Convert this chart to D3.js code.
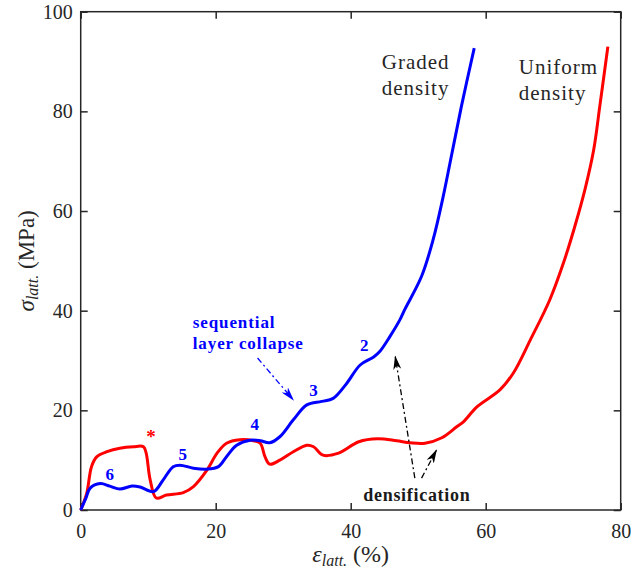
<!DOCTYPE html>
<html>
<head>
<meta charset="utf-8">
<script src="https://cdn.jsdelivr.net/npm/d3@7"></script>
<style>
  body { margin: 0; background: #fff; }
  text { font-family: "Liberation Serif", "Times New Roman", serif; }
</style>
</head>
<body>
<script>
// SVG dimensions
const outerWidth = 631, outerHeight = 573;
const plotLeft = 80.7, plotRight = 620.7, plotTop = 11.7, plotBottom = 510;
const axisColour = "#262626";

// Graded density (blue)
const gradedStrain = [0, 0.8, 1.4, 2.9, 4.3, 5.8, 7.6, 8.8, 10.8, 12.2, 13.7, 14.7, 16.7, 18.7, 20.4,
    21.6, 23.1, 25.1, 26.6, 28.0, 29.5, 31.5, 33.5, 35.7, 37.4, 39.4, 41.4, 43.4, 44.3, 45.8,
    47.3, 48.0, 50.5, 52.2, 53.7, 55.0, 56.4, 58.3];
const gradedStress = [0, 2.5, 4.4, 5.3, 4.8, 4.2, 4.8, 4.6, 3.7, 6.0, 8.7, 9.0, 8.4, 8.2, 8.7,
    10.7, 13.0, 14.0, 13.9, 13.5, 14.7, 18.1, 21.1, 21.8, 22.4, 25.4, 29.1, 30.7, 31.8, 34.8,
    38.2, 40.2, 46.9, 54.2, 62.9, 71.6, 81.0, 92.7];

// Uniform density (red)
const uniformStrain = [0, 0.9, 1.6, 2.4, 3.9, 5.8, 7.8, 9.3, 9.7, 10.3, 11.2, 12.7, 15.2, 16.7,
    18.7, 20.2, 21.6, 23.6, 25.6, 26.6, 27.3, 28.0, 29.5, 31.5, 33.5, 34.5, 35.9, 38.2, 41.2,
    44.0, 46.8, 48.8, 51.0, 53.5, 55.7, 56.7, 58.7, 62.1, 64.1, 66.6, 69.5, 71.5, 73.2, 74.7,
    76.0, 76.9, 78.1];
const uniformStress = [0, 3.4, 8.7, 10.7, 11.7, 12.4, 12.7, 12.7, 11.4, 6.0, 2.4, 3.0, 3.5, 4.7,
    8.0, 11.4, 13.4, 14.1, 13.9, 13.4, 10.7, 9.2, 10.0, 11.7, 13.0, 12.7, 11.0, 11.4, 13.7,
    14.3, 13.9, 13.5, 13.4, 14.5, 16.7, 17.7, 20.7, 24.1, 27.5, 34.1, 42.2, 49.5, 56.9, 64.3,
    72.3, 81.0, 93.0];

// Tick values
const xTicks = [0, 20, 40, 60, 80];
const yTicks = [0, 20, 40, 60, 80, 100];

// Collapse-stage labels on the graded curve [strain, stress, label]
const stageLabels = [[4.3, 6.0, "6"], [15.1, 10.0, "5"], [25.8, 16.1, "4"], [34.5, 22.9, "3"], [42.0, 32.0, "2"]];

const svg = d3.select("body").append("svg")
    .attr("width", outerWidth)
    .attr("height", outerHeight);

const x = d3.scaleLinear().domain([0, 80]).range([plotLeft, plotRight]);
const y = d3.scaleLinear().domain([0, 100]).range([plotBottom, plotTop]);

// Arrow heads
const defs = svg.append("defs");
[["headBlack", "#000"], ["headBlue", "#0000ff"]].forEach(([id, c]) => {
    defs.append("marker")
        .attr("id", id)
        .attr("viewBox", "0 0 14 8")
        .attr("refX", 13).attr("refY", 4)
        .attr("markerWidth", 14).attr("markerHeight", 8)
        .attr("markerUnits", "userSpaceOnUse")
        .attr("orient", "auto")
        .append("path")
        .attr("d", "M0,0 L14,4 L0,8 L4,4 Z")
        .attr("fill", c);
});

// Axes with inward ticks on all four sides
function styleAxis(g) {
    g.select(".domain").remove();
    g.selectAll("line").attr("stroke", axisColour).attr("stroke-width", 1.5);
    g.selectAll("text").attr("fill", axisColour).style("font-size", "20px")
        .style("font-family", "'Liberation Serif', serif");
}
svg.append("g").attr("transform", `translate(0,${plotBottom})`)
    .call(d3.axisBottom(x).tickValues(xTicks).tickSize(-7).tickPadding(14).tickFormat(d3.format("d")))
    .call(styleAxis);
svg.append("g").attr("transform", `translate(${plotLeft},0)`)
    .call(d3.axisLeft(y).tickValues(yTicks).tickSize(-7).tickPadding(8).tickFormat(d3.format("d")))
    .call(styleAxis);
svg.append("g").attr("transform", `translate(0,${plotTop})`)
    .call(d3.axisTop(x).tickValues(xTicks).tickSize(-7).tickFormat(""))
    .call(styleAxis);
svg.append("g").attr("transform", `translate(${plotRight},0)`)
    .call(d3.axisRight(y).tickValues(yTicks).tickSize(-7).tickFormat(""))
    .call(styleAxis);

svg.append("rect")
    .attr("x", plotLeft).attr("y", plotTop)
    .attr("width", plotRight - plotLeft).attr("height", plotBottom - plotTop)
    .attr("fill", "none").attr("stroke", axisColour).attr("stroke-width", 1.5);

// Curves
const line = d3.line()
    .x(d => x(d[0]))
    .y(d => y(d[1]))
    .curve(d3.curveCatmullRom.alpha(0.5));

svg.append("path")
    .datum(uniformStrain.map((s, i) => [s, uniformStress[i]]))
    .attr("fill", "none").attr("stroke", "#ff0000").attr("stroke-width", 3)
    .attr("stroke-linejoin", "round")
    .attr("d", line);
svg.append("path")
    .datum(gradedStrain.map((s, i) => [s, gradedStress[i]]))
    .attr("fill", "none").attr("stroke", "#0000ff").attr("stroke-width", 3)
    .attr("stroke-linejoin", "round")
    .attr("d", line);

// Stage labels
svg.selectAll("text.stage")
    .data(stageLabels)
    .enter().append("text")
    .attr("class", "stage")
    .attr("x", d => x(d[0])).attr("y", d => y(d[1]))
    .attr("text-anchor", "middle")
    .attr("fill", "#0000ff")
    .style("font-size", "17px").style("font-weight", "bold")
    .text(d => d[2]);

svg.append("text")
    .attr("x", x(10.4)).attr("y", y(13.4))
    .attr("text-anchor", "middle")
    .attr("fill", "#ff0000")
    .style("font-size", "19px").style("font-weight", "bold")
    .text("*");

// Curve names
function twoLines(xv, yv, lines, opts) {
    const t = svg.append("text")
        .attr("x", x(xv)).attr("y", y(yv))
        .attr("fill", opts.fill)
        .attr("text-anchor", opts.anchor || "start")
        .style("font-size", opts.size)
        .style("font-weight", opts.weight || "normal")
        .style("letter-spacing", opts.spacing || "0px");
    lines.forEach((s, i) => {
        t.append("tspan").attr("x", x(xv)).attr("dy", i === 0 ? 0 : opts.lead).text(s);
    });
}
twoLines(44.6, 88.6, ["Graded", "density"], { fill: "#262626", size: "21px", lead: 26, spacing: "1px" });
twoLines(64.9, 87.5, ["Uniform", "density"], { fill: "#262626", size: "21px", lead: 26, spacing: "1px" });
twoLines(16.6, 36.5, ["sequential", "layer collapse"], { fill: "#0000ff", size: "17px", lead: 21, weight: "bold", spacing: "0.9px" });

svg.append("text")
    .attr("x", x(49.8)).attr("y", y(1.8))
    .attr("text-anchor", "middle")
    .attr("fill", "#1a1a1a")
    .style("font-size", "18px").style("font-weight", "bold")
    .style("letter-spacing", "0.7px")
    .text("densification");

// Dash-dot arrows
const arrows = [
    [26.2, 30.5, 31.5, 22.1, "#0000ff", "headBlue"],
    [49.5, 6.4, 46.6, 30.8, "#000", "headBlack"],
    [50.5, 6.4, 52.7, 12.0, "#000", "headBlack"]
];
arrows.forEach(a => {
    svg.append("line")
        .attr("x1", x(a[0])).attr("y1", y(a[1]))
        .attr("x2", x(a[2])).attr("y2", y(a[3]))
        .attr("stroke", a[4]).attr("stroke-width", 1.3)
        .attr("stroke-dasharray", "6,3,2,3")
        .attr("marker-end", `url(#${a[5]})`);
});

// Axis labels
const xl = svg.append("text")
    .attr("x", (plotLeft + plotRight) / 2).attr("y", 562)
    .attr("text-anchor", "middle")
    .attr("fill", axisColour)
    .style("font-size", "24px");
xl.append("tspan").style("font-style", "italic").text("ε");
xl.append("tspan").style("font-style", "italic").style("font-size", "16px").attr("dy", 4).text("latt.");
xl.append("tspan").attr("dy", -4).text(" (%)");

const yl = svg.append("text")
    .attr("transform", `translate(34,${(plotTop + plotBottom) / 2}) rotate(-90)`)
    .attr("text-anchor", "middle")
    .attr("fill", axisColour)
    .style("font-size", "23px");
yl.append("tspan").style("font-style", "italic").text("σ");
yl.append("tspan").style("font-style", "italic").style("font-size", "16px").attr("dy", 4).text("latt.");
yl.append("tspan").attr("dy", -4).text(" (MPa)");
</script>
</body>
</html>
